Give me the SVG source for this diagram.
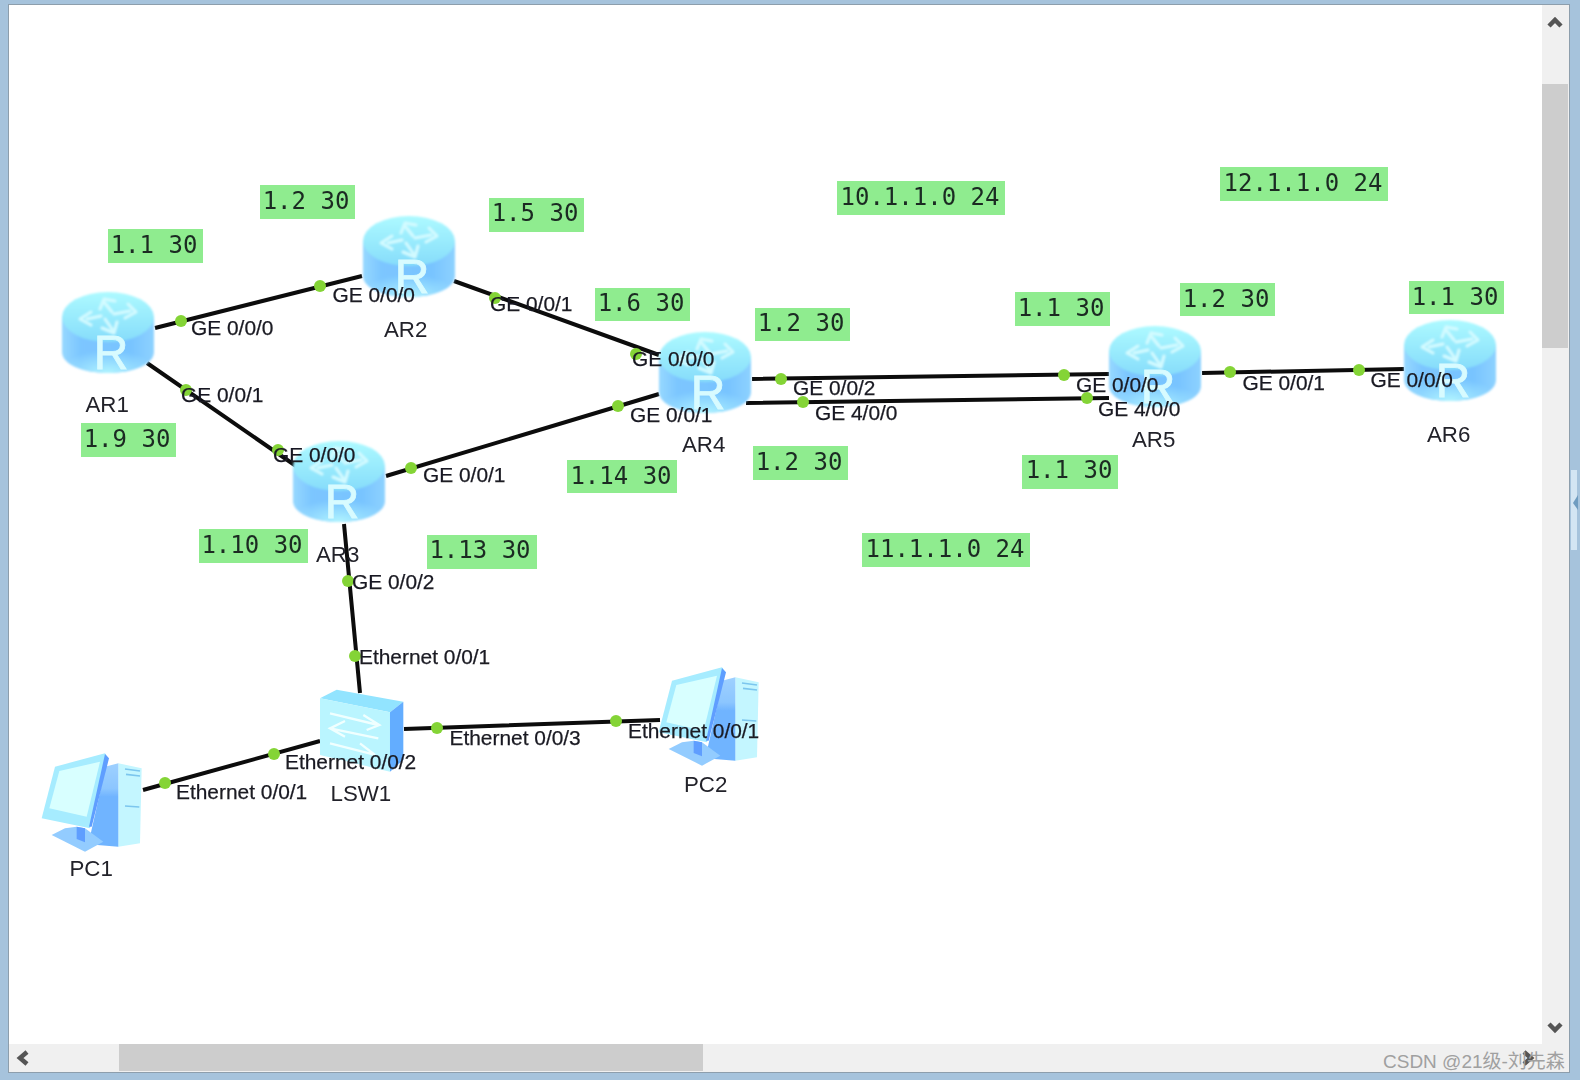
<svg xmlns="http://www.w3.org/2000/svg" width="1580" height="1080" viewBox="0 0 1580 1080">
<style>
.lnk{stroke:#0c0c0c;stroke-width:4;fill:none;stroke-linecap:butt}
.dot{fill:#84d436}
.port{font:20.9px "Liberation Sans",Arial,sans-serif;fill:#1a1a22;stroke:#1a1a22;stroke-width:.25;filter:url(#soft)}
.name{font:22.300px "Liberation Sans",Arial,sans-serif;fill:#22222a;filter:url(#soft)}
.tag{fill:#8fec8f}
.tagt{font:24px "DejaVu Sans Mono","Liberation Mono",monospace;fill:#1a2a22;text-anchor:middle;filter:url(#soft)}
.ico{fill:none;stroke:#d4fbff;stroke-width:3;stroke-linecap:round;stroke-linejoin:round}
.chev{fill:none;stroke:#555;stroke-width:4.500}
.blur{filter:url(#iconblur)}
</style>
<defs>
<filter id="soft" x="-5%" y="-20%" width="110%" height="140%"><feGaussianBlur stdDeviation=".35"/></filter>
<filter id="iconblur" x="-5%" y="-5%" width="110%" height="110%"><feGaussianBlur stdDeviation=".8"/></filter>
<linearGradient id="rb" x1="0" x2="1" y1="0" y2="0"><stop offset="0" stop-color="#96d8ff"/><stop offset=".2" stop-color="#7cc6ff"/><stop offset=".75" stop-color="#78c4ff"/><stop offset="1" stop-color="#8ed2ff"/></linearGradient>
<linearGradient id="rt" x1="0" x2="0" y1="0" y2="1"><stop offset="0" stop-color="#adfaff"/><stop offset="1" stop-color="#86dcfb"/></linearGradient>
<radialGradient id="rg" cx=".5" cy="1" r=".55"><stop offset="0" stop-color="#b0f4ff"/><stop offset="1" stop-color="#b0f4ff" stop-opacity="0"/></radialGradient>
<linearGradient id="ps" x1="0" x2="0" y1="0" y2="1"><stop offset="0" stop-color="#9ed0ff"/><stop offset=".3" stop-color="#8cc6ff"/><stop offset=".4" stop-color="#70b4ff"/><stop offset="1" stop-color="#70b4ff"/></linearGradient>
<symbol id="router" width="92" height="82" viewBox="0 0 92 82" overflow="visible">
<g class="blur">
<path d="M0 25V60C0 72 20 81 46 81S92 72 92 60V25Z" fill="url(#rb)"/>
<path d="M0 40V60C0 72 20 81 46 81S92 72 92 60V40Z" fill="url(#rg)"/>
<ellipse cx="46" cy="25" rx="46" ry="25" fill="url(#rt)"/>
<path class="ico" d="M50 20L42 10M38 17L42 7L53 9M52 22L68 19M66 12L74 20L63 26M43 27L50 37M40 36L52 41L55 30M39 24L25 27M29 20L18 27L29 33"/>
</g>
<text x="49" y="77" text-anchor="middle" style="font:48px 'Liberation Sans',Arial,sans-serif;fill:#d8fbff;stroke:#d8fbff;stroke-width:.8;filter:url(#soft)">R</text>
</symbol>
<symbol id="pc" width="330" height="330" viewBox="0 0 330 330" overflow="visible">
<g class="blur">
<path d="M235 55L305 70L300 295L235 305Z" fill="#c4f6ff"/>
<path d="M195 65L235 55V305L145 298L185 120Z" fill="url(#ps)"/>
<path d="M35 270L75 250L110 245L135 250L190 290L135 320Z" fill="#93ccff"/>
<path d="M110 245L135 250V292L110 282Z" fill="#5f9eff"/>
<path d="M45 65L195 25L205 40L150 250L5 220Z" fill="#a6ecff"/>
<path d="M195 27L207 40L155 245L147 245Z" fill="#5f9eff"/>
<path d="M58 78L180 50L140 215L28 190Z" fill="#d8ffff"/>
<path d="M255 72L300 78M258 88L300 93M255 183L298 186" stroke="#7cc6ee" stroke-width="5" fill="none"/>
</g>
</symbol>
</defs>
<rect id="frame" width="1580" height="1080" fill="#a6c3dc"/>
<rect x="1571" y="470" width="6" height="80" fill="#d3e5f3"/>
<path d="M1578 495L1573 503L1578 510Z" fill="#6f9cc0"/>
<rect x="8" y="4" width="1562" height="1069" fill="#8d9eac"/>
<rect x="9" y="5" width="1560" height="1067" fill="#f0f0f0"/>
<rect x="9" y="5" width="1533" height="1039" fill="#fff"/>
<rect x="1542" y="84" width="26" height="264" fill="#cdcdcd"/>
<rect x="119" y="1044" width="584" height="27" fill="#cdcdcd"/>
<path class="chev" d="M1549 26L1555 20L1561 26M1549 1024L1555 1030L1561 1024M27 1052L20 1058L27 1064M1524 1052L1531 1058L1524 1064"/>
<g id="connectors">
<path class="lnk" d="M155 328L362 276M147 363L296 466M454 281L659 355M386 476L659 394M344 524L360 693M752 379L1109 374M746 403L1109 398M1202 373L1404 369M404 729L660 720M143 790L320 741"/>
</g>
<g id="AR1"><use href="#router" x="62" y="292"/><text class="name" x="85.500" y="411.500">AR1</text></g>
<g id="AR2"><use href="#router" x="363" y="216"/><text class="name" x="384" y="337">AR2</text></g>
<g id="AR3"><use href="#router" x="293" y="441"/><text class="name" x="316" y="562">AR3</text></g>
<g id="AR4"><use href="#router" x="659" y="332"/><text class="name" x="682" y="452">AR4</text></g>
<g id="AR5"><use href="#router" x="1109" y="326"/><text class="name" x="1132" y="447">AR5</text></g>
<g id="AR6"><use href="#router" x="1404" y="320"/><text class="name" x="1427" y="441.500">AR6</text></g>
<g id="LSW1">
<g transform="translate(310 685) scale(.3333)" class="blur">
<path d="M30 40L80 14L280 50L240 82Z" fill="#92e4ff"/>
<path d="M30 40L240 82V260L30 210Z" fill="#baf5ff"/>
<path d="M240 82L280 50V225L240 260Z" fill="#63adff"/>
<path d="M60 85L205 120M160 90L208 120L170 135M205 160L60 130M105 108L60 130L105 155M60 175L190 208M150 175L195 210" fill="none" stroke="#f0ffff" stroke-width="7"/>
</g>
<text class="name" x="330.500" y="801">LSW1</text>
</g>
<g id="PC1"><use href="#pc" width="110" height="110" x="40" y="745"/><text class="name" x="69.500" y="876">PC1</text></g>
<g id="PC2"><use href="#pc" width="110" height="110" x="657" y="659"/><text class="name" x="684" y="792">PC2</text></g>
<g id="ports">
<circle class="dot" cx="181" cy="321" r="6"/><circle class="dot" cx="320" cy="286" r="6"/><circle class="dot" cx="186" cy="390" r="6"/><circle class="dot" cx="278" cy="450" r="6"/><circle class="dot" cx="495" cy="298" r="6"/><circle class="dot" cx="636" cy="354" r="6"/><circle class="dot" cx="411" cy="468" r="6"/><circle class="dot" cx="618" cy="406" r="6"/><circle class="dot" cx="348" cy="581" r="6"/><circle class="dot" cx="355" cy="656" r="6"/><circle class="dot" cx="437" cy="728" r="6"/><circle class="dot" cx="616" cy="721" r="6"/><circle class="dot" cx="274" cy="754" r="6"/><circle class="dot" cx="165" cy="783" r="6"/><circle class="dot" cx="781" cy="379" r="6"/><circle class="dot" cx="803" cy="402" r="6"/><circle class="dot" cx="1064" cy="375" r="6"/><circle class="dot" cx="1087" cy="398" r="6"/><circle class="dot" cx="1230" cy="372" r="6"/><circle class="dot" cx="1359" cy="370" r="6"/>
<text class="port" x="191" y="335">GE 0/0/0</text>
<text class="port" x="332.500" y="302">GE 0/0/0</text>
<text class="port" x="181" y="401.500">GE 0/0/1</text>
<text class="port" x="490" y="311">GE 0/0/1</text>
<text class="port" x="632" y="366">GE 0/0/0</text>
<text class="port" x="273" y="462">GE 0/0/0</text>
<text class="port" x="423" y="482">GE 0/0/1</text>
<text class="port" x="630" y="422">GE 0/0/1</text>
<text class="port" x="793" y="395">GE 0/0/2</text>
<text class="port" x="815" y="420">GE 4/0/0</text>
<text class="port" x="1076" y="391.500">GE 0/0/0</text>
<text class="port" x="1098" y="415.500">GE 4/0/0</text>
<text class="port" x="1242.500" y="390">GE 0/0/1</text>
<text class="port" x="1370.500" y="386.500">GE 0/0/0</text>
<text class="port" x="352" y="589">GE 0/0/2</text>
<text class="port" x="359" y="664">Ethernet 0/0/1</text>
<text class="port" x="449.500" y="745">Ethernet 0/0/3</text>
<text class="port" x="628" y="738">Ethernet 0/0/1</text>
<text class="port" x="285" y="769">Ethernet 0/0/2</text>
<text class="port" x="176" y="799">Ethernet 0/0/1</text>
</g>
<g id="tags">
<rect class="tag" x="108" y="229" width="95" height="34"/><text class="tagt" x="154" y="252.500">1.1 30</text>
<rect class="tag" x="260" y="185" width="95" height="34"/><text class="tagt" x="306" y="208.500">1.2 30</text>
<rect class="tag" x="489" y="198" width="95" height="34"/><text class="tagt" x="535" y="220.500">1.5 30</text>
<rect class="tag" x="595" y="288" width="95" height="33"/><text class="tagt" x="641" y="311">1.6 30</text>
<rect class="tag" x="755" y="308" width="95" height="33"/><text class="tagt" x="801" y="331">1.2 30</text>
<rect class="tag" x="837" y="181" width="168" height="34"/><text class="tagt" x="920" y="205">10.1.1.0 24</text>
<rect class="tag" x="1220" y="167" width="168" height="34"/><text class="tagt" x="1303" y="191">12.1.1.0 24</text>
<rect class="tag" x="1015" y="292" width="95" height="34"/><text class="tagt" x="1061" y="315.500">1.1 30</text>
<rect class="tag" x="1180" y="283" width="95" height="33"/><text class="tagt" x="1226" y="307">1.2 30</text>
<rect class="tag" x="1409" y="281" width="95" height="33"/><text class="tagt" x="1455" y="305">1.1 30</text>
<rect class="tag" x="81" y="423" width="95" height="34"/><text class="tagt" x="127" y="447">1.9 30</text>
<rect class="tag" x="199" y="529" width="109" height="34"/><text class="tagt" x="252" y="553">1.10 30</text>
<rect class="tag" x="427" y="535" width="110" height="34"/><text class="tagt" x="480" y="558">1.13 30</text>
<rect class="tag" x="567" y="460" width="110" height="33"/><text class="tagt" x="621" y="484">1.14 30</text>
<rect class="tag" x="753" y="446" width="95" height="34"/><text class="tagt" x="799" y="470">1.2 30</text>
<rect class="tag" x="1022" y="455" width="96" height="34"/><text class="tagt" x="1069" y="478">1.1 30</text>
<rect class="tag" x="862" y="533" width="168" height="34"/><text class="tagt" x="945" y="557">11.1.1.0 24</text>
</g>
<text id="watermark" x="1383" y="1068" style="font:19px 'Liberation Sans','Noto Sans CJK SC',sans-serif;fill:#a0a0a0">CSDN @21级-刘先森</text>
</svg>
